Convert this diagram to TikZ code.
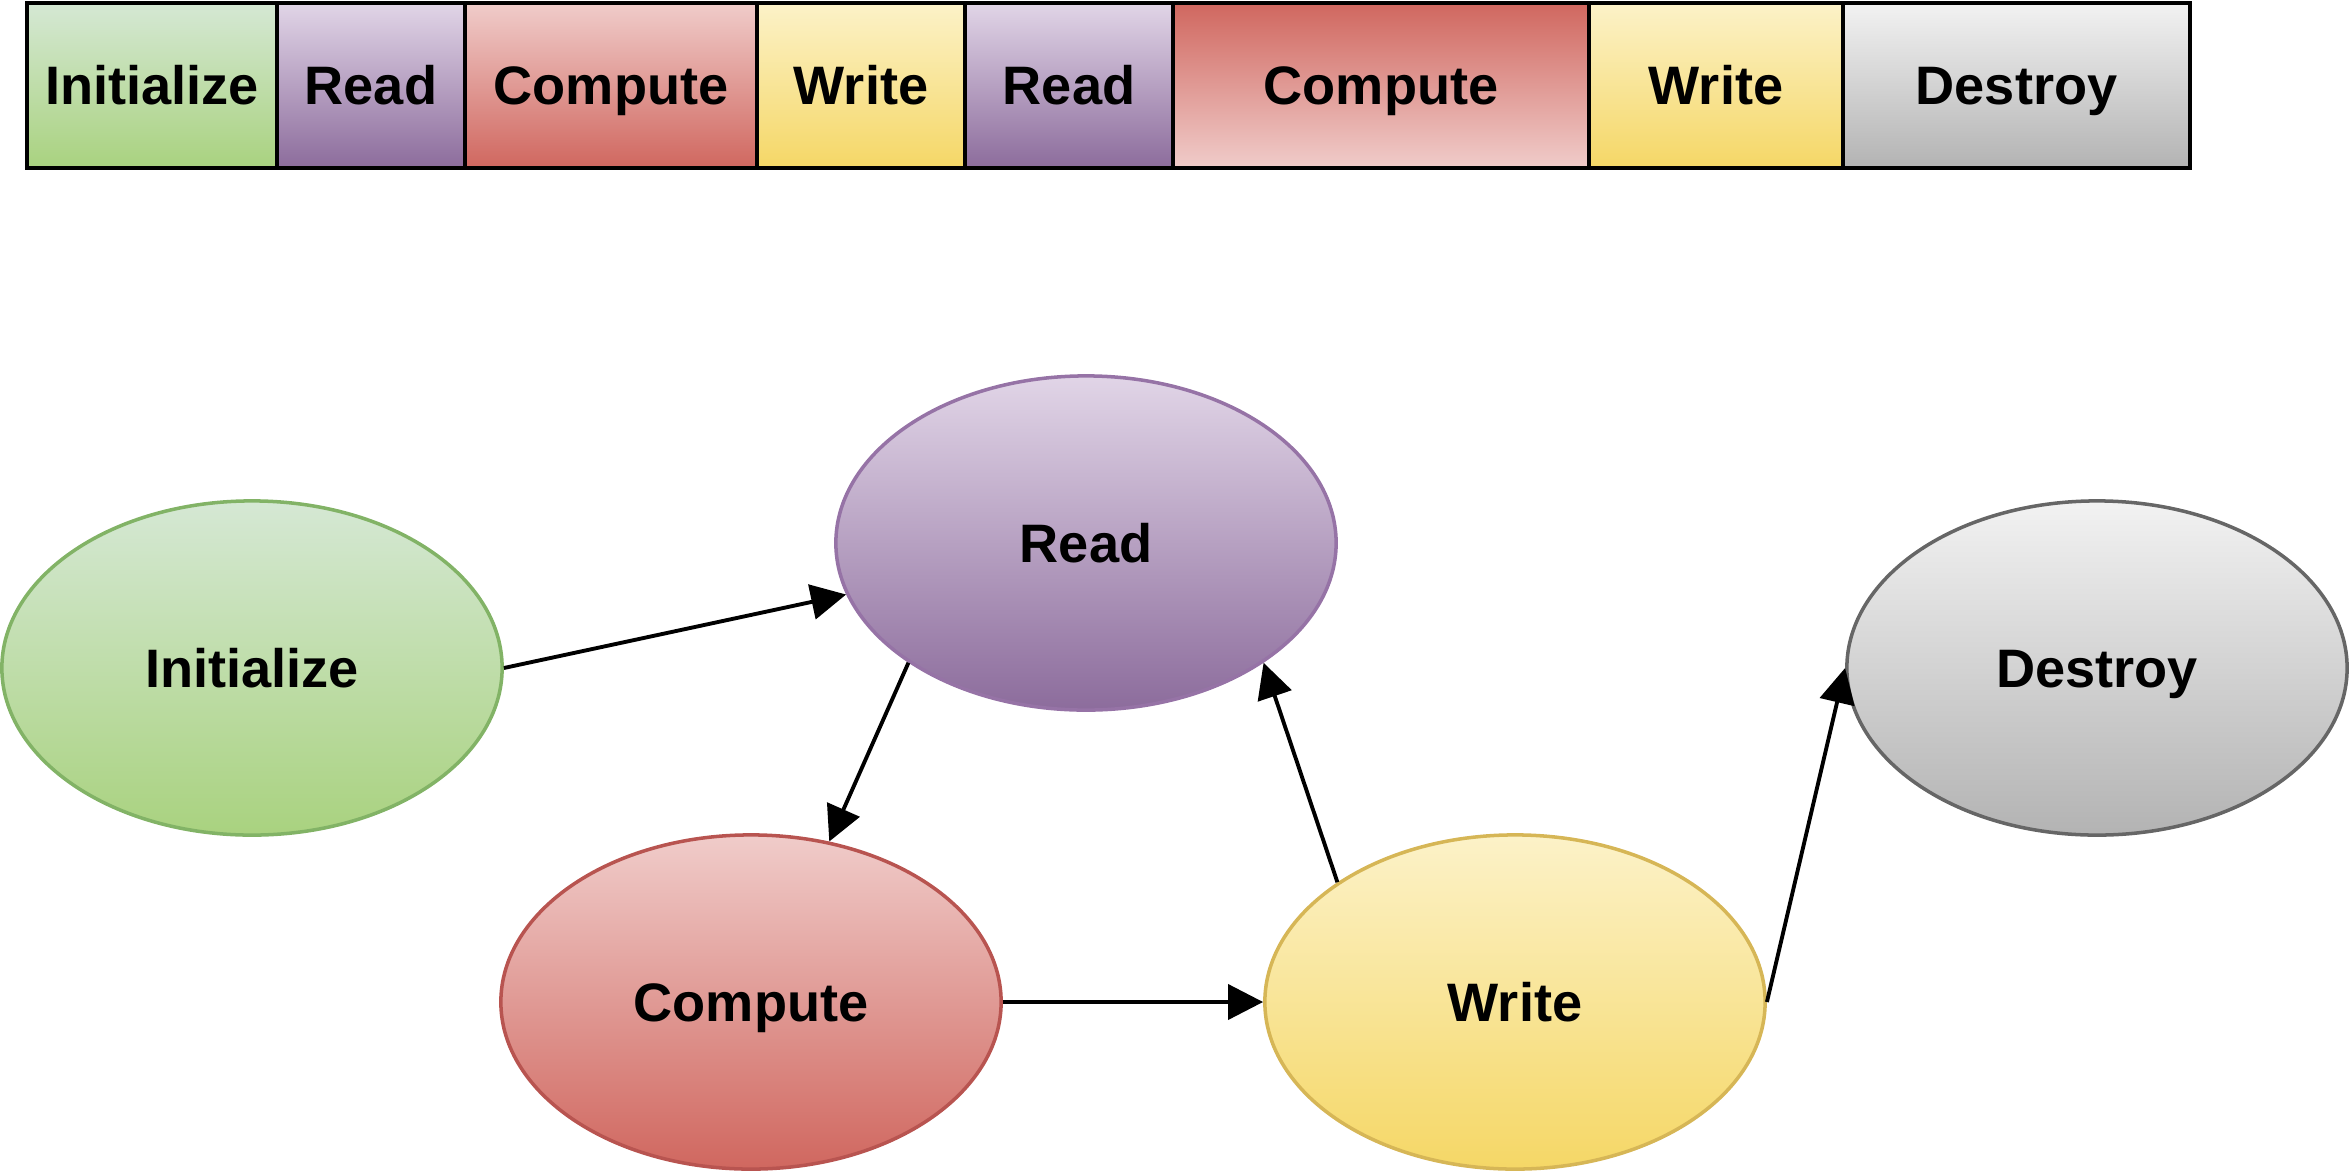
\documentclass[tikz,border=0pt]{standalone}
\usepackage{fontspec}
\setmainfont{Liberation Sans}
\usetikzlibrary{shapes.geometric,arrows.meta}
\definecolor{gTop}{HTML}{D5E8D4}\definecolor{gBot}{HTML}{A9D27F}\definecolor{gLine}{HTML}{82B366}
\definecolor{pTop}{HTML}{E1D5E7}\definecolor{pBot}{HTML}{8C6C9C}\definecolor{pLine}{HTML}{9673A6}
\definecolor{rTop}{HTML}{F0CCCA}\definecolor{rBot}{HTML}{D0675F}\definecolor{rLine}{HTML}{B85450}
\definecolor{yTop}{HTML}{FCF2C8}\definecolor{yBot}{HTML}{F5D766}\definecolor{yLine}{HTML}{D6B656}
\definecolor{kTop}{HTML}{F2F2F2}\definecolor{kBot}{HTML}{B3B3B3}\definecolor{kLine}{HTML}{666666}
\tikzset{
  lbl/.style={font=\fontsize{15.4}{18}\bfseries\selectfont, text=black, text height=11pt, text depth=0pt},
  cell/.style={lbl, rectangle, line width=1pt, minimum height=1.65cm, inner sep=0pt},
  state/.style={lbl, ellipse, line width=1pt, minimum width=5cm, minimum height=3.34cm, inner sep=0pt},
  green/.style={top color=gTop, bottom color=gBot},
  purple/.style={top color=pTop, bottom color=pBot},
  red/.style={top color=rTop, bottom color=rBot},
  redrev/.style={top color=rBot, bottom color=rTop},
  yellow/.style={top color=yTop, bottom color=yBot},
  gray/.style={top color=kTop, bottom color=kBot},
  blackline/.style={draw=black},
  arr/.style={line width=1.1pt, draw=black, -{Triangle[length=0.35cm, width=0.35cm]}}
}
\begin{document}
\begin{tikzpicture}[x=0.01cm, y=-0.01cm]
\useasboundingbox (0,0) rectangle (2350,1175);
% top bar
\node[cell, green,  blackline, minimum width=2.50cm] (b1) at (152,85.5) {Initialize};
\node[cell, purple, blackline, minimum width=1.88cm] (b2) at (371,85.5) {Read};
\node[cell, red,    blackline, minimum width=2.92cm] (b3) at (611,85.5) {Compute};
\node[cell, yellow, blackline, minimum width=2.08cm] (b4) at (861,85.5) {Write};
\node[cell, purple, blackline, minimum width=2.08cm] (b5) at (1069,85.5) {Read};
\node[cell, redrev, blackline, minimum width=4.16cm] (b6) at (1381,85.5) {Compute};
\node[cell, yellow, blackline, minimum width=2.54cm] (b7) at (1716,85.5) {Write};
\node[cell, gray,   blackline, minimum width=3.47cm] (b8) at (2016.5,85.5) {Destroy};
% states
\node[state, green,  draw=gLine] (init)    at (252,668)  {Initialize};
\node[state, purple, draw=pLine] (read)    at (1086,543) {Read};
\node[state, red,    draw=rLine] (comp)    at (751,1002) {Compute};
\node[state, yellow, draw=yLine] (write)   at (1515,1002) {Write};
\node[state, gray,   draw=kLine] (destroy) at (2097,668) {Destroy};
% connectors
\draw[arr] (init.east) -- (read);
\draw[arr] (read.214) -- (comp.64.6);
\draw[arr] (comp) -- (write);
\draw[arr] (write.146) -- (read.326);
\draw[arr] (write.east) -- (destroy.west);
\end{tikzpicture}
\end{document}
